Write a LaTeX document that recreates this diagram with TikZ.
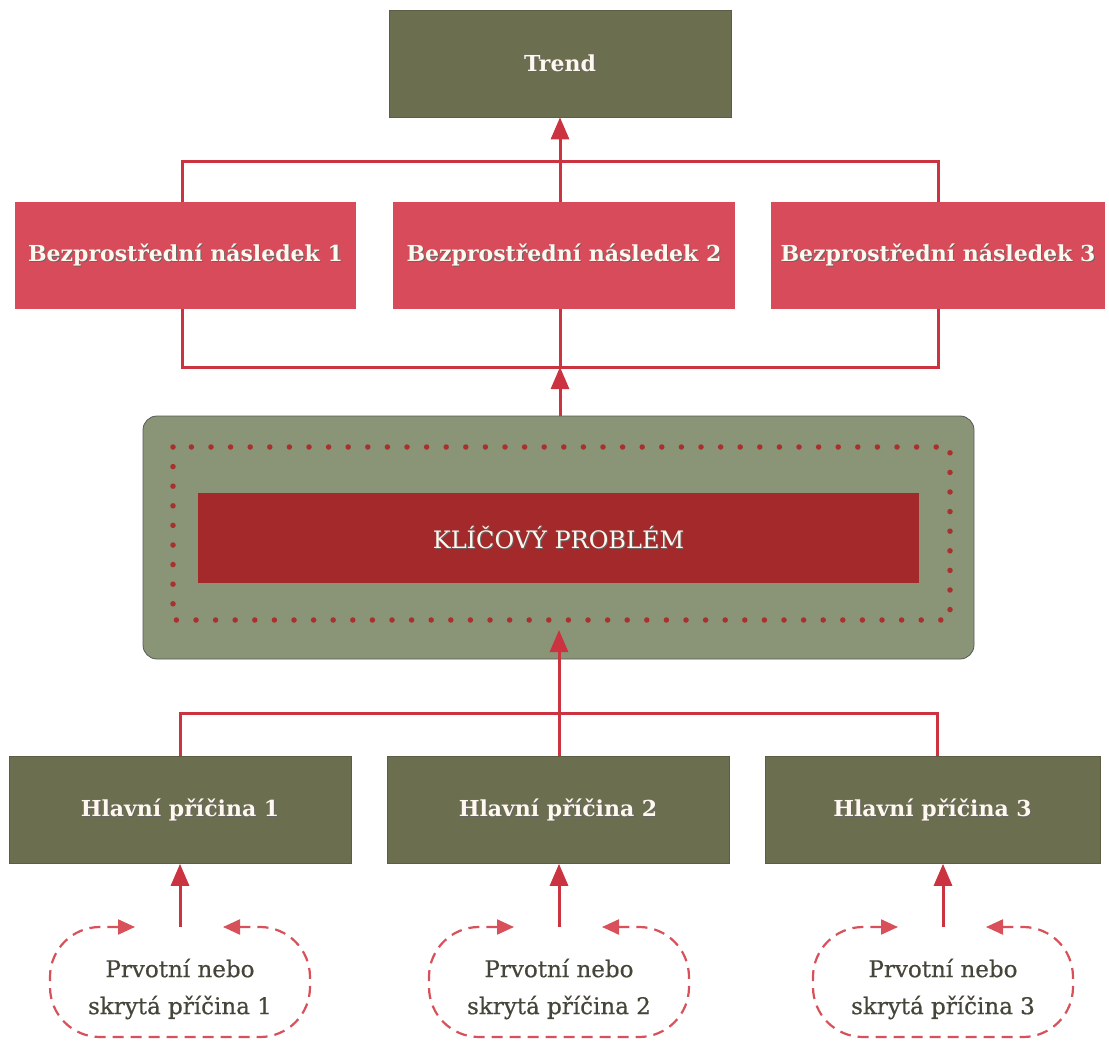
\documentclass[tikz,border=0pt]{standalone}
\usepackage{fontspec}
\setmainfont{DejaVu Serif}
\newfontface\softface{DejaVu Serif}[FakeBold=0.6]
\usetikzlibrary{arrows.meta}
\definecolor{boxolive}{HTML}{6C6E50}
\definecolor{boxred}{HTML}{D84B5A}
\definecolor{centralfill}{HTML}{8A9476}
\definecolor{innerred}{HTML}{A3292B}
\definecolor{dotred}{HTML}{A8302F}
\definecolor{linered}{HTML}{CC3340}
\definecolor{dashred}{HTML}{D8505A}
\definecolor{boxtext}{HTML}{FFF8EE}
\definecolor{softtext}{HTML}{45453A}
\newcommand\shadowed[1]{\makebox[0pt][l]{\kern1pt\raisebox{-1pt}{\textcolor{black!60}{#1}}}#1}
\begin{document}
\begin{tikzpicture}[x=1pt,y=-1pt,
  boxfont/.style={font=\bfseries\fontsize{22}{26}\selectfont},
  greenbox/.style={rectangle, fill=boxolive, draw=boxolive!85!black, line width=0.6pt,
    text=boxtext, boxfont, inner sep=0pt, minimum height=107pt},
  redbox/.style={rectangle, fill=boxred, text=boxtext, boxfont, inner sep=0pt,
    minimum height=107pt},
  conn/.style={draw=linered, line width=3pt},
  arr/.style={conn, -{Triangle[width=18pt,length=22pt]}},
  dashloop/.style={draw=dashred, line width=2.2pt, dash pattern=on 11pt off 7pt,
    rounded corners=50pt,
    {Triangle[width=15pt,length=17pt]}-{Triangle[width=15pt,length=17pt]}},
  softlabel/.style={align=center, text=softtext,
    font=\softface\fontsize{23}{37}\selectfont, inner sep=0pt}
]
\useasboundingbox (0,0) rectangle (1109,1043);
\fill[white] (0,0) rectangle (1109,1043);

% junction coordinates
\coordinate (tl) at (182,162);
\coordinate (tr) at (938,162);
\coordinate (bl) at (182,367);
\coordinate (br) at (938,367);
\coordinate (bm) at (560,367);
\coordinate (hl) at (180,713);
\coordinate (hr) at (937,713);
\coordinate (hm) at (559,713);
\coordinate (ctip) at (559,630);
\coordinate (s1) at (180,927);
\coordinate (s2) at (559,927);
\coordinate (s3) at (943,927);

% Trend
\node[greenbox, minimum width=342pt] (trend) at (560,63.5) {\shadowed{Trend}};

% upper connectors (drawn under the red boxes)
\draw[conn] (tl |- 0,255) -- (tl) -- (tr) -- (tr |- 0,255);
\draw[conn] (bl |- 0,255) -- (bl) -- (br) -- (br |- 0,255);

% central box
\node[rectangle, rounded corners=14pt, fill=centralfill, draw=black!65, line width=0.8pt,
  minimum width=831pt, minimum height=243pt, inner sep=0pt] (central) at (558.5,537.5) {};
\draw[arr] (central.north -| bm) -- (bm);
\draw[arr] (bm) -- (trend.south);

% red boxes
\node[redbox, minimum width=341pt] (b1) at (185.5,255.5) {\shadowed{Bezprostřední následek 1}};
\node[redbox, minimum width=342pt] (b2) at (564,255.5) {\shadowed{Bezprostřední následek 2}};
\node[redbox, minimum width=334pt] (b3) at (938,255.5) {\shadowed{Bezprostřední následek 3}};

% dotted frame and key problem
\draw[dotred, line width=5.5pt, line cap=round, dash pattern=on 0pt off 19.6pt]
  (173,447) rectangle (950,620);
\node[rectangle, fill=innerred, minimum width=721pt, minimum height=90pt, inner sep=0pt,
  text=boxtext, font=\fontsize{24}{28}\selectfont] (key) at (558.5,538) {\shadowed{KLÍČOVÝ PROBLÉM}};

% lower connectors
\draw[conn] (hl |- 0,810) -- (hl) -- (hr) -- (hr |- 0,810);
\draw[conn] (hm |- 0,810) -- (hm);
\draw[arr] (hm) -- (ctip);

% main causes
\node[greenbox, minimum width=342pt] (h1) at (180,810) {\shadowed{Hlavní příčina 1}};
\node[greenbox, minimum width=342pt] (h2) at (558,810) {\shadowed{Hlavní příčina 2}};
\node[greenbox, minimum width=335pt] (h3) at (932.5,810) {\shadowed{Hlavní příčina 3}};

% root causes
\foreach \n/\cx in {1/180, 2/559, 3/943}{
  \draw[dashloop] (\cx+43,927) -- (\cx+130,927) -- (\cx+130,1037) -- (\cx-130,1037)
    -- (\cx-130,927) -- (\cx-45,927);
  \node[softlabel] (p\n) at (\cx,989) {Prvotní nebo\\skrytá příčina \n};
}
\draw[arr] (s1) -- (s1 |- h1.south);
\draw[arr] (s2) -- (s2 |- h2.south);
\draw[arr] (s3) -- (s3 |- h3.south);
\end{tikzpicture}
\end{document}
